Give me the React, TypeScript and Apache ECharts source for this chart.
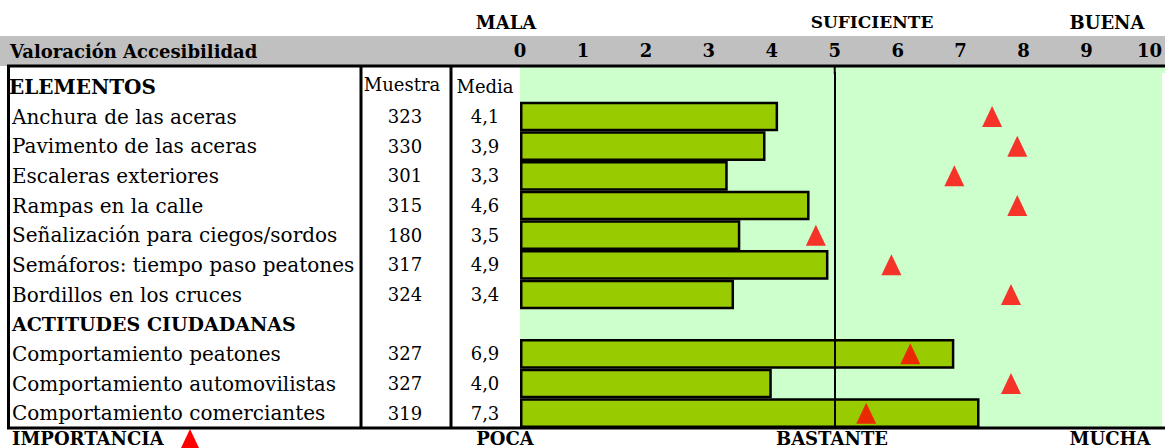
import React, { useEffect, useRef } from "react";
import * as echarts from "echarts";

const categories = [
  "ELEMENTOS",
  "Anchura de las aceras",
  "Pavimento de las aceras",
  "Escaleras exteriores",
  "Rampas en la calle",
  "Señalización para ciegos/sordos",
  "Semáforos: tiempo paso peatones",
  "Bordillos en los cruces",
  "ACTITUDES CIUDADANAS",
  "Comportamiento peatones",
  "Comportamiento automovilistas",
  "Comportamiento comerciantes",
];
const muestra = [null, 323, 330, 301, 315, 180, 317, 324, null, 327, 327, 319];
const media = [null, 4.1, 3.9, 3.3, 4.6, 3.5, 4.9, 3.4, null, 6.9, 4.0, 7.3];
const importancia = [null, 7.5, 7.9, 6.9, 7.9, 4.7, 5.9, 7.8, null, 6.2, 7.8, 5.5];
const scaleTitle = "Valoración Accesibilidad";
const topLabels = ["MALA", "SUFICIENTE", "BUENA"];
const bottomLabels = ["POCA", "BASTANTE", "MUCHA"];
const legendLabel = "IMPORTANCIA";
const colHeaders = ["Muestra", "Media"];

const FONT = "DejaVu Serif";
const W = 1165;
const H = 448;
const GRID_LEFT = 520;
const GRID_TOP = 72;
const GRID_BOTTOM_Y = 428;
const LINE_TOP = 66;

function capText(text: string, x: number, y: number, size: number, align = "center") {
  return {
    type: "text",
    z: 10,
    x,
    y,
    style: { text, font: `bold ${size}px "${FONT}"`, fill: "#000", textAlign: align, textVerticalAlign: "middle" },
  };
}

function buildOption(refX: number | null) {
  const fmtMedia = (v: number | null) => (v == null ? " " : v.toFixed(1).replace(".", ","));
  const graphic: any[] = [
    { type: "rect", z: 0, shape: { x: 0, y: 36, width: W, height: 30 }, style: { fill: "#C0C0C0" } },
    { type: "rect", z: 0, shape: { x: GRID_LEFT, y: LINE_TOP, width: W - GRID_LEFT, height: GRID_TOP - LINE_TOP + 1 }, style: { fill: "#CCFFCC" } },
    capText(scaleTitle, 10, 51, 18, "left"),
    capText(topLabels[0], 506, 22, 18),
    capText(topLabels[1], 872, 22, 17),
    capText(topLabels[2], 1107, 22, 18),
    capText(bottomLabels[0], 505, 438, 18),
    capText(bottomLabels[1], 832, 438, 18),
    capText(bottomLabels[2], 1110, 438, 18),
    capText(legendLabel, 12, 438, 18, "left"),
    { type: "polygon", z: 10, shape: { points: [[190, 429], [181, 448], [199, 448]] }, style: { fill: "#FF0000" } },
    // table borders
    { type: "line", z: 100, shape: { x1: 7, y1: LINE_TOP, x2: W, y2: LINE_TOP }, style: { stroke: "#000", lineWidth: 3 } },
    { type: "line", z: 100, shape: { x1: 7, y1: GRID_BOTTOM_Y, x2: W, y2: GRID_BOTTOM_Y }, style: { stroke: "#000", lineWidth: 3 } },
    { type: "line", z: 100, shape: { x1: 8.5, y1: LINE_TOP, x2: 8.5, y2: GRID_BOTTOM_Y }, style: { stroke: "#000", lineWidth: 3 } },
    { type: "line", z: 100, shape: { x1: 361, y1: LINE_TOP, x2: 361, y2: GRID_BOTTOM_Y }, style: { stroke: "#000", lineWidth: 3 } },
    { type: "line", z: 100, shape: { x1: 451, y1: LINE_TOP, x2: 451, y2: GRID_BOTTOM_Y }, style: { stroke: "#000", lineWidth: 3 } },
  ];
  if (refX != null) {
    graphic.push({ type: "line", z: 100, shape: { x1: refX, y1: LINE_TOP, x2: refX, y2: GRID_TOP + 2 }, style: { stroke: "#000", lineWidth: 2 } });
  }

  return {
    animation: false,
    backgroundColor: "#FFFFFF",
    textStyle: { fontFamily: FONT },
    grid: {
      left: GRID_LEFT,
      right: 0,
      top: GRID_TOP,
      bottom: H - GRID_BOTTOM_Y,
      show: true,
      backgroundColor: "#CCFFCC",
      borderWidth: 0,
      containLabel: false,
    },
    xAxis: {
      type: "value",
      position: "top",
      min: 0,
      max: 10.2,
      interval: 1,
      axisLine: { show: false },
      axisTick: { show: false },
      splitLine: { show: false },
      axisLabel: {
        margin: 13,
        color: "#000",
        fontWeight: "bold",
        fontSize: 18,
        fontFamily: FONT,
        showMaxLabel: false,
        formatter: (v: number) => (Number.isInteger(v) ? String(v) : ""),
      },
    },
    yAxis: {
      type: "category",
      inverse: true,
      data: categories,
      axisLine: { show: false },
      axisTick: { show: false },
      splitLine: { show: false },
      axisLabel: {
        margin: 0,
        interval: 0,
        align: "right",
        formatter: (value: string, idx: number) => {
          if (muestra[idx] == null) {
            if (idx === 0) return `{h|${value}}{mh|${colHeaders[0]}}{vh|${colHeaders[1]}}`;
            return `{h2|${value}}{m| }{v| }`;
          }
          return `{n|${value}}{m|${muestra[idx]}}{v|${fmtMedia(media[idx])}}`;
        },
        rich: {
          n: { width: 348, align: "left", fontSize: 20, fontFamily: FONT, color: "#000" },
          h: { width: 348, align: "left", fontSize: 20, fontWeight: "bold", fontFamily: FONT, color: "#000" },
          h2: { width: 348, align: "left", fontSize: 19, fontWeight: "bold", fontFamily: FONT, color: "#000" },
          m: { width: 90, align: "center", fontSize: 18, fontFamily: FONT, color: "#000" },
          mh: { width: 90, align: "center", fontSize: 18, fontFamily: FONT, color: "#000", padding: [0, 0, 4, 0] },
          v: { width: 70, align: "center", fontSize: 18, fontFamily: FONT, color: "#000" },
          vh: { width: 70, align: "left", fontSize: 18, fontFamily: FONT, color: "#000", padding: [0, 0, 0, 3] },
        },
      },
    },
    series: [
      {
        type: "bar",
        data: media,
        barCategoryGap: "0%",
        itemStyle: { color: "#99CC00", borderColor: "#000", borderWidth: 2.5 },
        z: 2,
        markLine: {
          silent: true,
          symbol: "none",
          label: { show: false },
          lineStyle: { color: "#000", width: 2, type: "solid" },
          data: [{ xAxis: 5 }],
          z: 5,
        },
      },
      {
        type: "scatter",
        data: importancia,
        symbol: "triangle",
        symbolSize: [20, 21],
        itemStyle: { color: "#FF0000" },
        z: 10,
      },
    ],
    graphic,
  };
}

export default function App() {
  const ref = useRef<HTMLDivElement>(null);
  useEffect(() => {
    if (!ref.current) return;
    const chart = echarts.init(ref.current, null, { renderer: "svg" });
    chart.setOption(buildOption(null) as any);
    const refX = chart.convertToPixel({ xAxisIndex: 0 }, 5) as number;
    chart.setOption(buildOption(refX) as any, { notMerge: true });
    return () => chart.dispose();
  }, []);
  return <div ref={ref} style={{ position: "absolute", left: 0, top: 0, width: W, height: H }} />;
}
